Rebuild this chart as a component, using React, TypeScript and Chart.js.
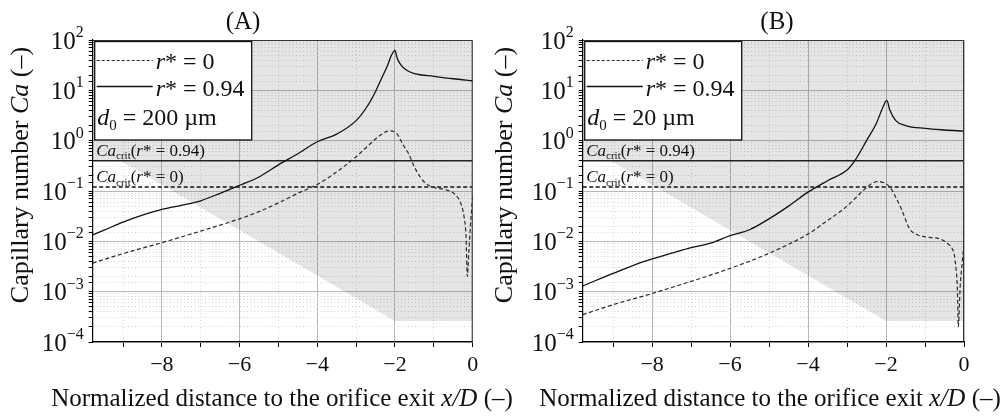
import React, { useEffect, useRef } from "react";
import { Chart, registerables } from "chart.js";
Chart.register(...registerables);

const SERIF = '"Liberation Serif", "Times New Roman", Times, serif';

const X_MIN = -9.78;
const X_MAX = 0;
const Y_MIN = 1e-4;
const Y_MAX = 100;
const X_TICK_LABELS = [-8, -6, -4, -2, 0];
const Y_TICK_EXPONENTS = [-4, -3, -2, -1, 0, 1, 2];
const CA_CRIT_R094 = 0.4;
const CA_CRIT_R0 = 0.12;
const SHADE_X = [-9.78, -9.06, -2, 0];
const SHADE_Y = [0.4, 0.4, 2.6e-4, 2.6e-4];

// Panel A (d0 = 200 um)
const A_R0_X = [-9.78, -9.0, -8.0, -7.0, -6.0, -5.5, -5.0, -4.5, -4.0, -3.5, -3.0, -2.7, -2.4, -2.15, -1.96, -1.8, -1.65, -1.5, -1.35, -1.2, -1.0, -0.7, -0.45, -0.3, -0.22, -0.17, -0.14, -0.1, -0.06, -0.03, 0];
const A_R0_Y = [0.0037, 0.0057, 0.0094, 0.016, 0.028, 0.039, 0.058, 0.09, 0.135, 0.24, 0.48, 0.78, 1.25, 1.56, 1.4, 0.85, 0.55, 0.3, 0.19, 0.14, 0.118, 0.106, 0.085, 0.055, 0.03, 0.012, 0.002, 0.006, 0.02, 0.04, 0.08];
const A_R94_X = [-9.78, -9.5, -9.0, -8.5, -8.0, -7.5, -7.0, -6.5, -6.0, -5.5, -5.0, -4.5, -4.0, -3.5, -3.0, -2.7, -2.5, -2.35, -2.2, -2.1, -2.0, -1.95, -1.85, -1.7, -1.5, -1.0, -0.5, 0];
const A_R94_Y = [0.0135, 0.0165, 0.024, 0.033, 0.043, 0.052, 0.064, 0.09, 0.13, 0.19, 0.33, 0.55, 0.95, 1.35, 2.5, 5, 9.5, 17, 30, 48, 62, 45, 32, 25, 21.5, 19, 17, 15.5];

// Panel B (d0 = 20 um)
const B_R0_X = [-9.78, -9.0, -8.0, -7.0, -6.0, -5.0, -4.0, -3.5, -3.0, -2.6, -2.4, -2.2, -2.05, -1.9, -1.75, -1.6, -1.4, -1.2, -1.0, -0.6, -0.4, -0.28, -0.23, -0.17, -0.145, -0.1, -0.05, 0];
const B_R0_Y = [0.00035, 0.00055, 0.00092, 0.0016, 0.0029, 0.0058, 0.014, 0.026, 0.05, 0.1, 0.135, 0.155, 0.145, 0.12, 0.075, 0.043, 0.018, 0.0135, 0.0123, 0.011, 0.0088, 0.0065, 0.0043, 0.0011, 0.0002, 0.0012, 0.0035, 0.009];
const B_R94_X = [-9.78, -9.0, -8.2, -7.5, -7.0, -6.5, -6.0, -5.5, -5.0, -4.5, -4.0, -3.5, -3.0, -2.8, -2.5, -2.25, -2.08, -1.98, -1.9, -1.75, -1.5, -1.0, -0.5, 0];
const B_R94_Y = [0.0013, 0.0023, 0.004, 0.0058, 0.0075, 0.0092, 0.013, 0.017, 0.028, 0.05, 0.095, 0.16, 0.26, 0.4, 1.0, 2.2, 4.6, 6.3, 4.0, 2.5, 2.0, 1.75, 1.63, 1.55];

type Seg = { t: string; size: number; italic?: boolean; dy?: number };
const fontOf = (s: Seg) => `${s.italic ? "italic " : ""}${s.size}px ${SERIF}`;
function richWidth(ctx: CanvasRenderingContext2D, segs: Seg[]) {
  let w = 0;
  for (const s of segs) {
    ctx.font = fontOf(s);
    w += ctx.measureText(s.t).width;
  }
  return w;
}
function drawRich(ctx: CanvasRenderingContext2D, x: number, y: number, segs: Seg[], align: "left" | "center" | "right" = "left") {
  const w = richWidth(ctx, segs);
  let cx = align === "left" ? x : align === "center" ? x - w / 2 : x - w;
  ctx.textAlign = "left";
  ctx.textBaseline = "alphabetic";
  for (const s of segs) {
    ctx.font = fontOf(s);
    ctx.fillText(s.t, cx, y + (s.dy || 0));
    cx += ctx.measureText(s.t).width;
  }
}

const isDecade = (v: number) => Math.abs(Math.log10(v) - Math.round(Math.log10(v))) < 1e-6;
const isEven = (v: number) => Math.abs(v / 2 - Math.round(v / 2)) < 1e-6;
const fmtX = (v: number) => (v === 0 ? "0" : "\u2212" + Math.abs(v));
const fmtExp = (e: number) => (e < 0 ? "\u2212" + Math.abs(e) : String(e));

type PanelCfg = {
  left: number;
  width: number;
  yAxisWidth: number;
  padRight: number;
  title: string;
  titleX: number;
  yTitleX: number;
  xTitleX: number;
  d0: string;
  r0x: number[];
  r0y: number[];
  r94x: number[];
  r94y: number[];
};

function decorPlugin(p: PanelCfg) {
  return {
    id: "decor",
    afterDraw(chart: any) {
      const ctx: CanvasRenderingContext2D = chart.ctx;
      const a = chart.chartArea;
      const ys = chart.scales.y;
      ctx.save();
      ctx.setLineDash([]);
      // frame (top & right)
      ctx.strokeStyle = "#333";
      ctx.lineWidth = 1;
      ctx.beginPath();
      ctx.moveTo(a.left, a.top + 0.5);
      ctx.lineTo(a.right - 0.5, a.top + 0.5);
      ctx.lineTo(a.right - 0.5, a.bottom);
      ctx.stroke();

      ctx.fillStyle = "#111";
      // critical labels
      const y94 = ys.getPixelForValue(CA_CRIT_R094);
      const y0 = ys.getPixelForValue(CA_CRIT_R0);
      drawRich(ctx, a.left + 3.5, y94 - 5, [
        { t: "Ca", size: 17, italic: true },
        { t: "crit", size: 11, dy: 3.5 },
        { t: "(", size: 17 },
        { t: "r", size: 17, italic: true },
        { t: "* = 0.94)", size: 17 },
      ]);
      drawRich(ctx, a.left + 3.5, y0 - 5, [
        { t: "Ca", size: 17, italic: true },
        { t: "crit", size: 11, dy: 3.5 },
        { t: "(", size: 17 },
        { t: "r", size: 17, italic: true },
        { t: "* = 0)", size: 17 },
      ]);

      // legend box
      const ds = chart.data.datasets;
      const bx = a.left + 2;
      const by = a.top + 1.5;
      const bw = 157;
      const bh = 98.5;
      ctx.fillStyle = "#fff";
      ctx.fillRect(bx, by, bw, bh);
      ctx.strokeStyle = "#111";
      ctx.lineWidth = 1.3;
      ctx.strokeRect(bx, by, bw, bh);
      const sample = (d: any, y: number, dash: number[]) => {
        ctx.save();
        ctx.strokeStyle = d.borderColor;
        ctx.lineWidth = d.borderWidth;
        ctx.setLineDash(dash);
        ctx.beginPath();
        ctx.moveTo(bx + 2, y);
        ctx.lineTo(bx + 58, y);
        ctx.stroke();
        ctx.restore();
      };
      sample(ds[1], by + 19, [3, 2]);
      sample(ds[0], by + 45, []);
      ctx.fillStyle = "#111";
      drawRich(ctx, bx + 61, by + 27, [
        { t: "r", size: 24, italic: true },
        { t: "* = 0", size: 24 },
      ]);
      drawRich(ctx, bx + 61, by + 54, [
        { t: "r", size: 24, italic: true },
        { t: "* = 0.94", size: 24 },
      ]);
      drawRich(ctx, bx + 2.5, by + 83, [
        { t: "d", size: 24, italic: true },
        { t: "0", size: 15, dy: 5 },
        { t: " = " + p.d0 + " \u00b5m", size: 24 },
      ]);

      // y tick labels
      ctx.fillStyle = "#111";
      for (const e of Y_TICK_EXPONENTS) {
        const py = ys.getPixelForValue(Math.pow(10, e));
        const right = a.left - 9;
        ctx.font = `16px ${SERIF}`;
        const we = ctx.measureText(fmtExp(e)).width;
        ctx.font = `25px ${SERIF}`;
        const wb = ctx.measureText("10").width;
        ctx.textAlign = "left";
        ctx.textBaseline = "alphabetic";
        ctx.fillText("10", right - we - wb, py + 8.5);
        ctx.font = `16px ${SERIF}`;
        ctx.fillText(fmtExp(e), right - we, py - 3);
      }

      // panel title
      ctx.font = `25px ${SERIF}`;
      ctx.textAlign = "center";
      ctx.fillText(p.title, p.titleX, 29);

      // x title
      drawRich(ctx, p.xTitleX, 406, [
        { t: "Normalized distance to the orifice exit ", size: 25 },
        { t: "x/D", size: 25, italic: true },
        { t: " (\u2013)", size: 25 },
      ], "center");

      // y title
      ctx.save();
      ctx.translate(p.yTitleX, (a.top + a.bottom) / 2 - 16);
      ctx.rotate(-Math.PI / 2);
      drawRich(ctx, 0, 0, [
        { t: "Capillary number ", size: 26 },
        { t: "Ca", size: 26, italic: true },
        { t: " (\u2013)", size: 26 },
      ], "center");
      ctx.restore();

      ctx.restore();
    },
  };
}

function Panel({ p }: { p: PanelCfg }) {
  const ref = useRef<HTMLCanvasElement>(null);
  useEffect(() => {
    const pts = (xs: number[], ys: number[]) => xs.map((x, i) => ({ x, y: ys[i] }));
    const chart = new Chart(ref.current as HTMLCanvasElement, {
      type: "line",
      data: {
        datasets: [
          { label: "r* = 0.94", data: pts(p.r94x, p.r94y), borderColor: "#111", borderWidth: 1.3, pointRadius: 0, fill: false, cubicInterpolationMode: "monotone" },
          { label: "r* = 0", data: pts(p.r0x, p.r0y), borderColor: "#2a2a2a", borderWidth: 1.2, borderDash: [4, 2.6], pointRadius: 0, fill: false, cubicInterpolationMode: "monotone" },
          { label: "crit094", data: pts([X_MIN, X_MAX], [CA_CRIT_R094, CA_CRIT_R094]), borderColor: "#222", borderWidth: 1.5, pointRadius: 0, fill: false },
          { label: "crit0", data: pts([X_MIN, X_MAX], [CA_CRIT_R0, CA_CRIT_R0]), borderColor: "#111", borderWidth: 1.6, borderDash: [4, 2.5], pointRadius: 0, fill: false },
          { label: "shade", data: pts(SHADE_X, SHADE_Y), borderColor: "rgba(0,0,0,0)", borderWidth: 0, backgroundColor: "rgba(0,0,0,0.1)", fill: "end", pointRadius: 0 },
        ] as any,
      },
      options: {
        responsive: false,
        animation: false,
        devicePixelRatio: 1,
        layout: { padding: { top: 40, right: p.padRight, left: 0, bottom: 0 } },
        plugins: { legend: { display: false }, tooltip: { enabled: false }, title: { display: false } },
        scales: {
          x: {
            type: "linear",
            position: "bottom",
            min: X_MIN,
            max: X_MAX,
            ticks: {
              stepSize: 1,
              includeBounds: false,
              autoSkip: false,
              maxRotation: 0,
              maxTicksLimit: 20,
              padding: 5,
              color: "#111",
              font: { family: SERIF, size: 22 },
              callback: (v: any) => {
                const n = Number(v);
                return X_TICK_LABELS.some((t) => Math.abs(t - n) < 1e-6) ? fmtX(Math.round(n)) : "";
              },
            },
            grid: {
              color: (c: any) => (c.tick && isEven(c.tick.value) ? "#b8b8b8" : "rgba(0,0,0,0)"),
              lineWidth: 1,
              drawTicks: true,
              tickLength: 5,
              tickColor: "#000",
            },
            border: { display: true, color: "#000", width: 1.2 },
            afterFit: (s: any) => {
              s.height = 76;
            },
          },
          xm: {
            type: "linear",
            position: "bottom",
            min: X_MIN,
            max: X_MAX,
            ticks: { display: false, stepSize: 1, includeBounds: false, maxTicksLimit: 20 },
            grid: {
              color: (c: any) => (c.tick && !isEven(c.tick.value) ? "#d2d2d2" : "rgba(0,0,0,0)"),
              lineWidth: 1,
              drawTicks: false,
            },
            border: { display: false, dash: [1, 2.5] },
            afterFit: (s: any) => {
              s.height = 0;
            },
          },
          y: {
            type: "logarithmic",
            position: "left",
            min: Y_MIN,
            max: Y_MAX,
            ticks: { display: false },
            grid: {
              color: (c: any) => (c.tick && isDecade(c.tick.value) ? "#b8b8b8" : "rgba(0,0,0,0)"),
              lineWidth: 1,
              drawTicks: true,
              tickLength: 4,
              tickColor: "#000",
            },
            border: { display: true, color: "#000", width: 1.2 },
            afterFit: (s: any) => {
              s.width = p.yAxisWidth;
            },
          },
          ym: {
            type: "logarithmic",
            position: "left",
            min: Y_MIN,
            max: Y_MAX,
            ticks: { display: false },
            grid: {
              color: (c: any) => (c.tick && !isDecade(c.tick.value) ? "#d2d2d2" : "rgba(0,0,0,0)"),
              lineWidth: 1,
              drawTicks: false,
            },
            border: { display: false, dash: [1, 2.5] },
            afterFit: (s: any) => {
              s.width = 0;
            },
          },
        } as any,
      },
      plugins: [decorPlugin(p)],
    });
    return () => chart.destroy();
  }, []);
  return (
    <canvas
      ref={ref}
      width={p.width}
      height={418}
      style={{ position: "absolute", left: p.left, top: 0, width: p.width, height: 418 }}
    />
  );
}

const PANEL_A: PanelCfg = {
  left: 0,
  width: 520,
  yAxisWidth: 92.7,
  padRight: 520 - 472.7,
  title: "(A)",
  titleX: 243,
  yTitleX: 28,
  xTitleX: 282,
  d0: "200",
  r0x: A_R0_X,
  r0y: A_R0_Y,
  r94x: A_R94_X,
  r94y: A_R94_Y,
};

const PANEL_B: PanelCfg = {
  left: 480,
  width: 520,
  yAxisWidth: 102.7,
  padRight: 36,
  title: "(B)",
  titleX: 297,
  yTitleX: 32,
  xTitleX: 290,
  d0: "20",
  r0x: B_R0_X,
  r0y: B_R0_Y,
  r94x: B_R94_X,
  r94y: B_R94_Y,
};

export default function App() {
  return (
    <div style={{ position: "absolute", left: 0, top: 0, width: 1000, height: 418, background: "#fff", overflow: "hidden" }}>
      <Panel p={PANEL_A} />
      <Panel p={PANEL_B} />
    </div>
  );
}
